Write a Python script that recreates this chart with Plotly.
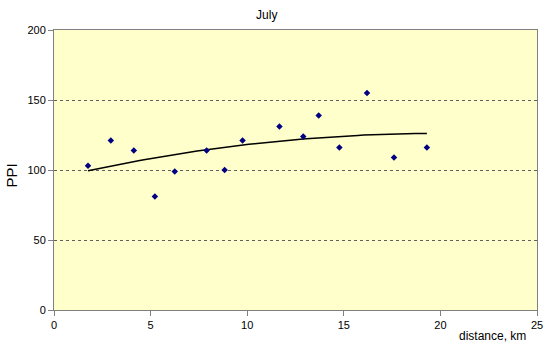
import numpy as np
import plotly.graph_objects as go

distance_km = [1.76, 2.94, 4.13, 5.22, 6.25, 7.9, 8.83, 9.76, 11.67, 12.9, 13.7, 14.77, 16.2, 17.6, 19.3]
ppi = [103, 121, 114, 81, 99, 114, 100, 121, 131, 124, 139, 116, 155, 109, 116]

# Polynomial (order 2) trendline, as in the original spreadsheet chart
coef = np.polyfit(distance_km, ppi, 2)
tx = np.linspace(min(distance_km), max(distance_km), 60)
ty = np.polyval(coef, tx)

fig = go.Figure()
fig.add_trace(go.Scatter(x=tx, y=ty, mode="lines",
                         line=dict(color="black", width=1.5), hoverinfo="skip", showlegend=False))
fig.add_trace(go.Scatter(x=distance_km, y=ppi, mode="markers",
                         marker=dict(symbol="diamond", size=5, color="#000080"), showlegend=False))

fig.update_layout(
    width=550, height=351,
    margin=dict(l=54, r=13, t=30, b=41, autoexpand=False),
    paper_bgcolor="white", plot_bgcolor="#FFFFCC",
    font=dict(family="Liberation Sans, Arial", size=11, color="black"),
    title=dict(text="July", x=0.485, xanchor="center", y=0.957, yanchor="middle",
               font=dict(size=12)),
    xaxis=dict(range=[0, 25], tickvals=[0, 5, 10, 15, 20, 25], showgrid=False,
               zeroline=False, showline=True, linecolor="#808080", mirror=True,
               ticks="outside", ticklen=5, tickcolor="#808080", automargin=False),
    yaxis=dict(range=[0, 200], tickvals=[0, 50, 100, 150, 200], showgrid=True,
               gridcolor="#606060", griddash="dot", gridwidth=1,
               zeroline=False, showline=True, linecolor="#808080", mirror=True,
               ticks="outside", ticklen=5, tickcolor="#808080", automargin=False),
    annotations=[
        dict(text="distance, km", xref="paper", yref="paper", x=1, xshift=-9, y=0,
             yshift=-17, xanchor="right", yanchor="top", showarrow=False,
             font=dict(size=12)),
        dict(text="PPI", xref="paper", yref="paper", x=0, xshift=-42, y=0.48,
             xanchor="center", yanchor="middle", textangle=-90, showarrow=False,
             font=dict(size=15)),
    ],
)

fig.write_html("out.html")
